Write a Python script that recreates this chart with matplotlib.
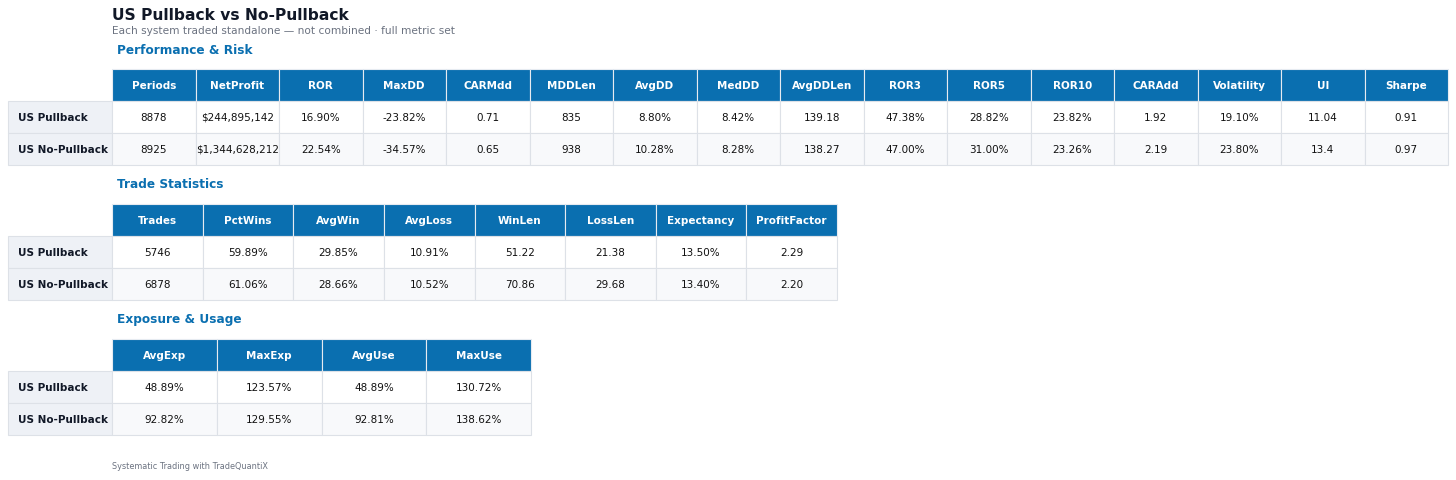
import matplotlib.pyplot as plt
from matplotlib.patches import Rectangle

# ---- data ----
systems = ['US Pullback', 'US No-Pullback']

perf_cols = ['Periods', 'NetProfit', 'ROR', 'MaxDD', 'CARMdd', 'MDDLen', 'AvgDD', 'MedDD',
             'AvgDDLen', 'ROR3', 'ROR5', 'ROR10', 'CARAdd', 'Volatility', 'UI', 'Sharpe']
perf_pullback = ['8878', '$244,895,142', '16.90%', '-23.82%', '0.71', '835', '8.80%', '8.42%',
                 '139.18', '47.38%', '28.82%', '23.82%', '1.92', '19.10%', '11.04', '0.91']
perf_nopullback = ['8925', '$1,344,628,212', '22.54%', '-34.57%', '0.65', '938', '10.28%', '8.28%',
                   '138.27', '47.00%', '31.00%', '23.26%', '2.19', '23.80%', '13.4', '0.97']

trade_cols = ['Trades', 'PctWins', 'AvgWin', 'AvgLoss', 'WinLen', 'LossLen', 'Expectancy', 'ProfitFactor']
trade_pullback = ['5746', '59.89%', '29.85%', '10.91%', '51.22', '21.38', '13.50%', '2.29']
trade_nopullback = ['6878', '61.06%', '28.66%', '10.52%', '70.86', '29.68', '13.40%', '2.20']

exp_cols = ['AvgExp', 'MaxExp', 'AvgUse', 'MaxUse']
exp_pullback = ['48.89%', '123.57%', '48.89%', '130.72%']
exp_nopullback = ['92.82%', '129.55%', '92.81%', '138.62%']

sections = [
    ('Performance & Risk', perf_cols, [perf_pullback, perf_nopullback], 70, 1448),
    ('Trade Statistics', trade_cols, [trade_pullback, trade_nopullback], 205, 837),
    ('Exposure & Usage', exp_cols, [exp_pullback, exp_nopullback], 340, 531),
]

HEAD_BG = '#0a6fb0'
LABEL_BG = '#eef1f6'
ALT_BG = '#f8f9fb'
GRID = '#dde1e7'
BLUE_TXT = '#0a6fb0'

fig = plt.figure(figsize=(14.56, 4.81), dpi=100)
ax = fig.add_axes([0, 0, 1, 1])
ax.set_xlim(0, 1456)
ax.set_ylim(481, 0)
ax.axis('off')

ax.text(112, 15, 'US Pullback vs No-Pullback', fontsize=11.2, fontweight='bold',
        color='#111827', va='center', ha='left')
ax.text(112, 31, 'Each system traded standalone \u2014 not combined \u00b7 full metric set',
        fontsize=7.6, color='#6b7280', va='center', ha='left')

label_x0, label_x1 = 8, 112
head_h, row_h = 32, 32

for title, cols, rows, top, right in sections:
    ax.text(117, top - 20, title, fontsize=8.7, fontweight='bold', color=BLUE_TXT,
            va='center', ha='left')
    cw = (right - label_x1) / len(cols)
    # header
    for j, c in enumerate(cols):
        x = label_x1 + j * cw
        ax.add_patch(Rectangle((x, top), cw, head_h, facecolor=HEAD_BG,
                               edgecolor='#e6ebf1', lw=0.8))
        ax.text(x + cw / 2, top + head_h / 2, c, fontsize=7.5, fontweight='bold',
                color='white', ha='center', va='center')
    # body
    for i, (name, vals) in enumerate(zip(systems, rows)):
        y = top + head_h + i * row_h
        ax.add_patch(Rectangle((label_x0, y), label_x1 - label_x0, row_h,
                               facecolor=LABEL_BG, edgecolor=GRID, lw=0.8))
        ax.text(label_x0 + 10, y + row_h / 2, name, fontsize=7.5, fontweight='bold',
                color='#111827', ha='left', va='center')
        bg = 'white' if i == 0 else ALT_BG
        for j, v in enumerate(vals):
            x = label_x1 + j * cw
            ax.add_patch(Rectangle((x, y), cw, row_h, facecolor=bg,
                                   edgecolor=GRID, lw=0.8))
            ax.text(x + cw / 2, y + row_h / 2, v, fontsize=7.5,
                    color='#111111', ha='center', va='center')

ax.text(112, 467, 'Systematic Trading with TradeQuantiX', fontsize=5.9,
        color='#6b7280', ha='left', va='center')

fig.savefig('out.png', dpi=100, facecolor='white')
